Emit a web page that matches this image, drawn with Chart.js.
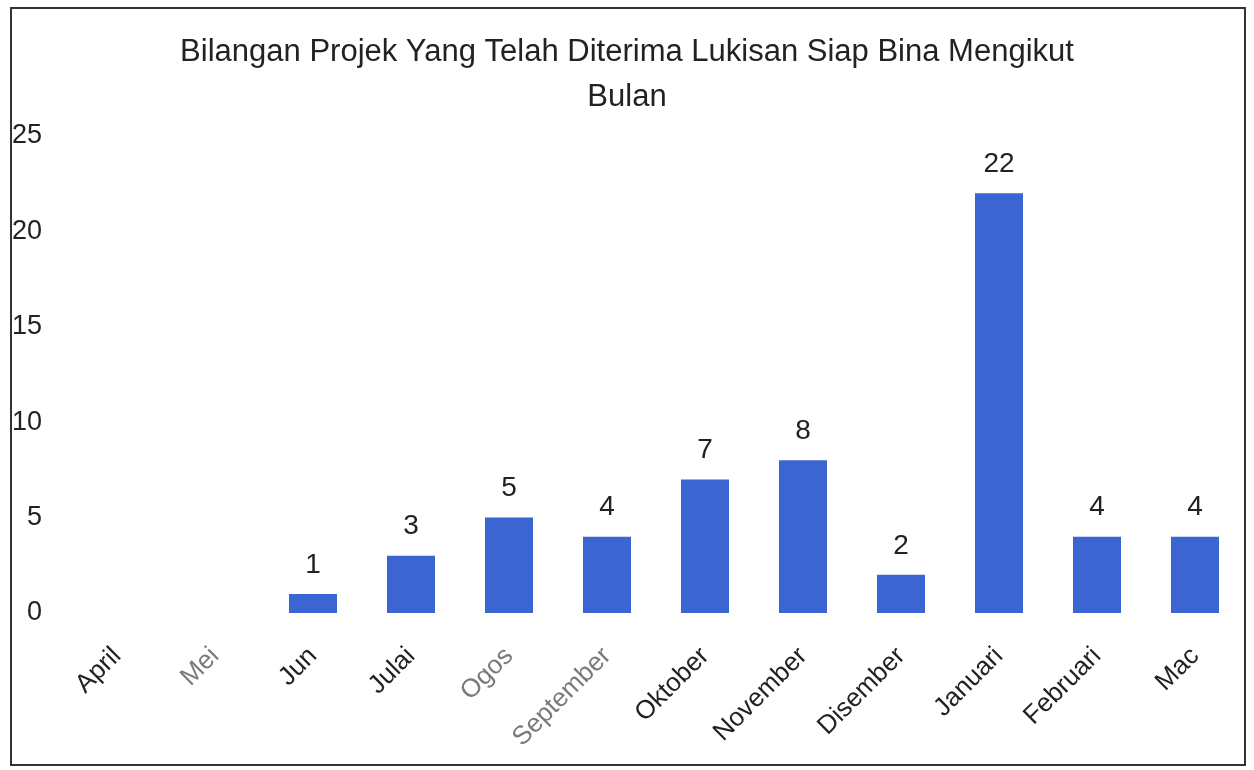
<!DOCTYPE html>
<html>
<head>
<meta charset="utf-8">
<script src="https://cdn.jsdelivr.net/npm/chart.js@4.4.1/dist/chart.umd.min.js"></script>
<style>
    html, body { margin: 0; padding: 0; background: #fff; }
    #wrap { position: relative; width: 1254px; height: 770px; }
    #frame {
        position: absolute; left: 10px; top: 7px; width: 1236px; height: 759px;
        border: 2px solid #333; box-sizing: border-box; pointer-events: none;
    }
</style>
</head>
<body>
<div id="wrap">
    <canvas id="bulanChart" width="1254" height="770"></canvas>
    <div id="frame"></div>
</div>
<script>
// Data dibaca dari carta asal
const bulan = ['April', 'Mei', 'Jun', 'Julai', 'Ogos', 'September', 'Oktober', 'November', 'Disember', 'Januari', 'Februari', 'Mac'];
const bilanganProjek = [0, 0, 1, 3, 5, 4, 7, 8, 2, 22, 4, 4];
const yTicks = [0, 5, 10, 15, 20, 25];
const tajuk = ['Bilangan Projek Yang Telah Diterima Lukisan Siap Bina Mengikut', 'Bulan'];

// label yang kelihatan pudar dalam imbasan
const labelPudar = ['Mei', 'Ogos', 'September'];

const fontFamily = "'Liberation Sans', Arial, sans-serif";

// tulis nilai di atas setiap bar
const nilaiDiAtasBar = {
    id: 'nilaiDiAtasBar',
    afterDatasetsDraw(chart) {
        const ctx = chart.ctx;
        const meta = chart.getDatasetMeta(0);
        ctx.save();
        ctx.font = '28px ' + fontFamily;
        ctx.fillStyle = '#222';
        ctx.textAlign = 'center';
        ctx.textBaseline = 'bottom';
        meta.data.forEach((bar, i) => {
            const v = chart.data.datasets[0].data[i];
            if (!v) return;
            ctx.fillText(v, bar.x, bar.y - 15);
        });
        ctx.restore();
    }
};

const ctx = document.getElementById('bulanChart').getContext('2d');

new Chart(ctx, {
    type: 'bar',
    data: {
        labels: bulan,
        datasets: [{
            data: bilanganProjek,
            backgroundColor: '#3a65d2',
            categoryPercentage: 1.0,
            barPercentage: 0.49
        }]
    },
    options: {
        responsive: false,
        animation: false,
        layout: { padding: { left: 10, right: 10, top: 0, bottom: 0 } },
        plugins: {
            legend: { display: false },
            tooltip: { enabled: false },
            title: {
                display: true,
                text: tajuk,
                color: '#222',
                font: { family: fontFamily, size: 31, weight: 'normal', lineHeight: 1.45 },
                padding: { top: 30, bottom: 16 }
            }
        },
        scales: {
            x: {
                grid: { display: false, drawTicks: false },
                border: { display: false },
                ticks: {
                    minRotation: 45,
                    maxRotation: 45,
                    padding: 28,
                    color: (c) => labelPudar.includes(bulan[c.index]) ? '#7a7a7a' : '#222',
                    font: { family: fontFamily, size: 26 }
                },
                afterFit: (scale) => { scale.height = 157; }
            },
            y: {
                min: 0,
                max: 25,
                afterBuildTicks: (scale) => { scale.ticks = yTicks.map(v => ({ value: v })); },
                grid: { display: false, drawTicks: false },
                border: { display: false },
                ticks: {
                    padding: 26,
                    color: '#222',
                    font: { family: fontFamily, size: 27 }
                },
                afterFit: (scale) => { scale.width = 58; }
            }
        }
    },
    plugins: [nilaiDiAtasBar]
});
</script>
</body>
</html>
